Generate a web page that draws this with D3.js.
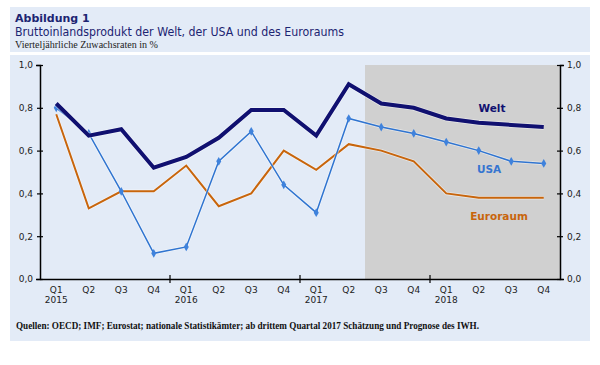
<!DOCTYPE html>
<html><head><meta charset="utf-8">
<script src="https://cdn.jsdelivr.net/npm/d3@7"></script>
<style>body{margin:0;background:#fff}svg{display:block}</style>
</head><body>
<svg id="c" width="600" height="365"></svg>
<script>
const quarters = ["Q1","Q2","Q3","Q4","Q1","Q2","Q3","Q4","Q1","Q2","Q3","Q4","Q1","Q2","Q3","Q4"];
const years = ["2015","","","","2016","","","","2017","","","","2018","","",""];
const welt = [0.82,0.67,0.70,0.52,0.57,0.66,0.79,0.79,0.67,0.91,0.82,0.80,0.75,0.73,0.72,0.71];
const usa = [0.80,0.68,0.41,0.12,0.15,0.55,0.69,0.44,0.31,0.75,0.71,0.68,0.64,0.60,0.55,0.54];
const euro = [0.77,0.33,0.41,0.41,0.53,0.34,0.40,0.60,0.51,0.63,0.60,0.55,0.40,0.38,0.38,0.38];
const yTicks = [0,0.2,0.4,0.6,0.8,1.0];
const forecastStart = 10;

const svg = d3.select("#c");
const bg = "#e3ebf7";
svg.append("rect").attr("x",10).attr("y",7).attr("width",580).attr("height",45).attr("fill",bg);
svg.append("rect").attr("x",10).attr("y",55).attr("width",580).attr("height",286).attr("fill",bg);

const sans = "'DejaVu Sans', sans-serif";
const serif = "'Liberation Serif', 'DejaVu Serif', serif";
svg.append("text").attr("x",15).attr("y",22).attr("font-family",sans).attr("font-weight","bold")
  .attr("font-size",11).attr("fill","#1c2472").text("Abbildung 1");
svg.append("text").attr("x",15).attr("y",36).attr("font-family",sans)
  .attr("font-size",12.5).attr("fill","#1c2472").attr("textLength",329).attr("lengthAdjust","spacingAndGlyphs")
  .text("Bruttoinlandsprodukt der Welt, der USA und des Euroraums");
svg.append("text").attr("x",15).attr("y",48).attr("font-family",serif)
  .attr("font-size",10.5).attr("fill","#222").attr("textLength",143).attr("lengthAdjust","spacingAndGlyphs")
  .text("Vierteljährliche Zuwachsraten in %");

const L = 40, R = 560, T = 65, B = 279;
const x = d3.scaleBand().domain(d3.range(16)).range([L,R]);
const cx = i => x(i) + x.bandwidth()/2;
const y = d3.scaleLinear().domain([0,1]).range([B,T]);

// forecast shading
svg.append("rect").attr("x",x(forecastStart)).attr("y",y(1)).attr("width",R - x(forecastStart))
  .attr("height",B - y(1)).attr("fill","#d0d0d0");

// axes
const fmt = d => d.toFixed(1).replace(".",",");
const yl = svg.append("g").attr("transform",`translate(${L},0)`)
  .call(d3.axisLeft(y).tickValues(yTicks).tickFormat(fmt).tickSize(4).tickPadding(3));
const yr = svg.append("g").attr("transform",`translate(${R},0)`)
  .call(d3.axisRight(y).tickValues(yTicks).tickFormat(fmt).tickSize(4).tickPadding(4));
[yl,yr].forEach(g=>{
  g.selectAll("line").attr("stroke","#000").attr("x1",-3).attr("x2",3).attr("stroke-width",1.2);
  g.select(".domain").attr("stroke","#000").attr("stroke-width",1.5);
  g.selectAll("text").attr("font-family",sans).attr("font-size",9).attr("fill","#222");
});
yl.selectAll("text").attr("x",-7);
yr.selectAll("text").attr("x",7);

const xa = svg.append("g").attr("transform",`translate(0,${B})`)
  .call(d3.axisBottom(x).tickValues([]).tickSizeOuter(0));
xa.select(".domain").attr("stroke","#000").attr("stroke-width",1.5);
[4,8,12].forEach(i=>{
  svg.append("line").attr("x1",x(i)).attr("x2",x(i)).attr("y1",B-4).attr("y2",B+4).attr("stroke","#000").attr("stroke-width",1.2);
});
const xl = svg.append("g");
xl.selectAll("text.q").data(quarters).join("text").attr("x",(d,i)=>cx(i)).attr("y",B+14)
  .attr("text-anchor","middle").attr("font-family",sans).attr("font-size",9).attr("fill","#222").text(d=>d);
xl.selectAll("text.yr").data(years).join("text").attr("x",(d,i)=>cx(i)).attr("y",B+24)
  .attr("text-anchor","middle").attr("font-family",sans).attr("font-size",9).attr("fill","#222").text(d=>d);

const line = d3.line().x((d,i)=>cx(i)).y(d=>y(d));
function drawLine(data,color,w){
  svg.append("path").datum(data).attr("d",line).attr("fill","none").attr("stroke","#fff")
    .attr("stroke-width",w+1.5).attr("stroke-opacity",0.5).attr("stroke-linejoin","round");
  svg.append("path").datum(data).attr("d",line).attr("fill","none").attr("stroke",color)
    .attr("stroke-width",w).attr("stroke-linejoin","miter");
}
drawLine(euro,"#c8650c",2);
drawLine(usa,"#2f74d0",1.5);
svg.append("g").selectAll("path").data(usa).join("path")
  .attr("d",d3.symbol().type(d3.symbolDiamond).size(22))
  .attr("transform",(d,i)=>`translate(${cx(i)},${y(d)})`).attr("fill","#3f82dc");
drawLine(welt,"#101070",4);

svg.append("text").attr("x",492).attr("y",112).attr("text-anchor","middle").attr("font-family",sans)
  .attr("font-weight","bold").attr("font-size",10.5).attr("fill","#101070").text("Welt");
svg.append("text").attr("x",489).attr("y",173).attr("text-anchor","middle").attr("font-family",sans)
  .attr("font-weight","bold").attr("font-size",10.5).attr("fill","#3575d0").text("USA");
svg.append("text").attr("x",499).attr("y",220).attr("text-anchor","middle").attr("font-family",sans)
  .attr("font-weight","bold").attr("font-size",10.5).attr("fill","#c8650c").text("Euroraum");

svg.append("text").attr("x",16).attr("y",329).attr("font-family",serif).attr("font-weight","bold")
  .attr("font-size",10.5).attr("fill","#111").attr("textLength",463).attr("lengthAdjust","spacingAndGlyphs")
  .text("Quellen: OECD; IMF; Eurostat; nationale Statistikämter; ab drittem Quartal 2017 Schätzung und Prognose des IWH.");
</script>
</body></html>
